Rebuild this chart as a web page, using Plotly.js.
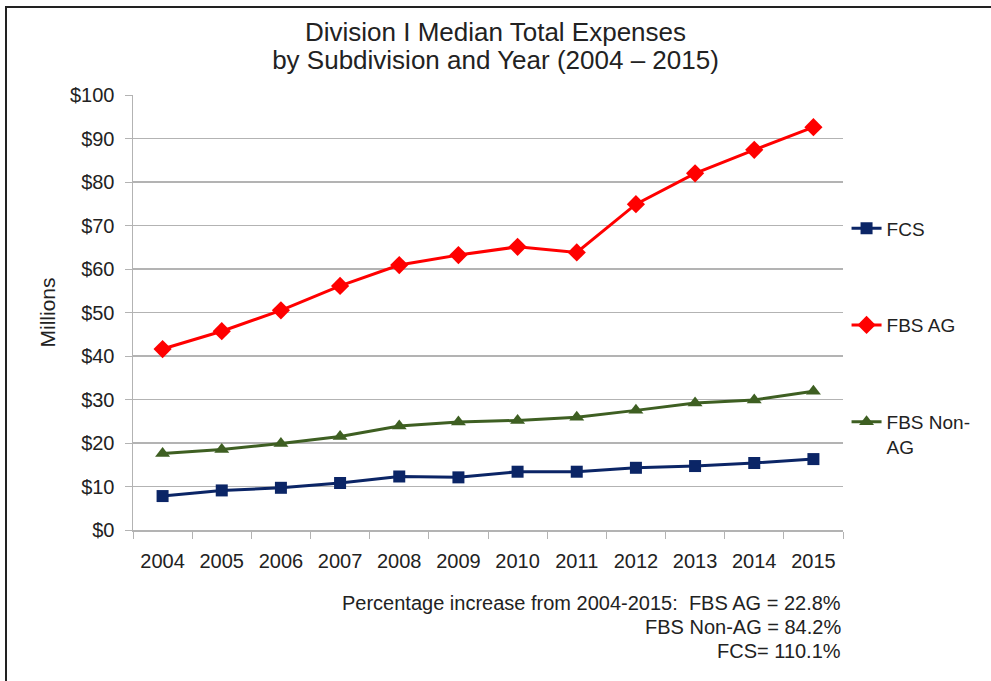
<!DOCTYPE html>
<html>
<head>
<meta charset="utf-8">
<script src="https://cdn.plot.ly/plotly-3.0.1.min.js"></script>
<style>
  html, body { margin: 0; padding: 0; background: #fff; }
  #frame { position: absolute; left: 5px; top: 6px; width: 1000px; height: 700px;
           border-top: 2px solid #222; border-left: 2px solid #222; pointer-events: none; z-index: 5; }
  #chart { position: absolute; left: 0; top: 0; width: 991px; height: 681px; }
</style>
</head>
<body>
<div id="chart"></div>
<div id="frame"></div>
<script>
const years = ["2004","2005","2006","2007","2008","2009","2010","2011","2012","2013","2014","2015"];
const fcs       = [7.8, 9.1, 9.7, 10.8, 12.3, 12.1, 13.4, 13.4, 14.3, 14.7, 15.4, 16.3];
const fbsAG     = [41.6, 45.7, 50.5, 56.1, 60.9, 63.2, 65.1, 63.8, 74.9, 82.0, 87.4, 92.6];
const fbsNonAG  = [17.6, 18.5, 19.9, 21.5, 23.9, 24.8, 25.2, 25.9, 27.5, 29.2, 29.9, 31.9];
const yTickVals = [0, 10, 20, 30, 40, 50, 60, 70, 80, 90, 100];
const yTickText = ["$0","$10","$20","$30","$40","$50","$60","$70","$80","$90","$100"];
const titleLines = ["Division I Median Total Expenses", "by Subdivision and Year (2004 – 2015)"];
const noteLines = ["Percentage increase from 2004-2015:  FBS AG = 22.8%", "FBS Non-AG = 84.2%", "FCS= 110.1%"];

const FONT = "'Liberation Sans', Arial, sans-serif";

const traces = [
  { x: years, y: fcs, name: "FCS", type: "scatter", mode: "lines+markers", legendgroup: "a",
    line: { color: "#0b2566", width: 3 }, marker: { symbol: "square", size: 12, color: "#0b2566" } },
  { x: years, y: fbsAG, name: "FBS AG", type: "scatter", mode: "lines+markers", legendgroup: "b",
    line: { color: "#ff0000", width: 3 }, marker: { symbol: "diamond", size: 14, color: "#ff0000" } },
  { x: years, y: fbsNonAG, name: "FBS Non-<br>AG", type: "scatter", mode: "lines+markers", legendgroup: "c",
    line: { color: "#3e5f22", width: 3 }, marker: { symbol: "triangle-up", size: 13, color: "#3e5f22" } }
];

const annotations = noteLines.map((t, i) => ({
  text: t, xref: "paper", yref: "paper", x: 1, y: -0.168 - i * 0.055,
  xanchor: "right", yanchor: "middle", showarrow: false,
  font: { family: FONT, size: 20, color: "#222" }
}));

const layout = {
  width: 991, height: 681,
  margin: { l: 133, r: 148, t: 95, b: 151 },
  paper_bgcolor: "#fff", plot_bgcolor: "#fff",
  font: { family: FONT, color: "#222" },
  title: { text: titleLines.map(s => '<span style="font-size:26px">' + s + '</span>').join("<br>"),
           font: { family: FONT, size: 22, color: "#222" },
           xref: "container", x: 0.5, xanchor: "center", yref: "container", y: 0.94, yanchor: "top" },
  xaxis: { type: "category", range: [-0.5, 11.5], tickson: "boundaries", ticks: "outside", ticklen: 7, tickcolor: "#b3b3b3",
           showline: true, linecolor: "#b3b3b3", linewidth: 1.5, showgrid: false, ticklabelstandoff: 12,
           tickfont: { family: FONT, size: 20, color: "#222" }, fixedrange: true },
  yaxis: { range: [0, 100], tickvals: yTickVals, ticktext: yTickText, ticks: "outside", ticklen: 7,
           tickcolor: "#b3b3b3", showline: true, linecolor: "#b3b3b3", linewidth: 1.5,
           gridcolor: "#b3b3b3", gridwidth: 1.2, zeroline: false, ticklabelstandoff: 6,
           tickfont: { family: FONT, size: 20, color: "#222" },
           title: { text: "Millions", font: { family: FONT, size: 21, color: "#222" }, standoff: 8 } },
  showlegend: true,
  legend: { x: 1.005, xanchor: "left", y: 0.737, yanchor: "top", tracegroupgap: 69, valign: "top",
            font: { family: FONT, size: 19, color: "#222" }, bgcolor: "rgba(0,0,0,0)" },
  annotations: annotations
};

Plotly.newPlot("chart", traces, layout, { displayModeBar: false, staticPlot: true });
</script>
</body>
</html>
